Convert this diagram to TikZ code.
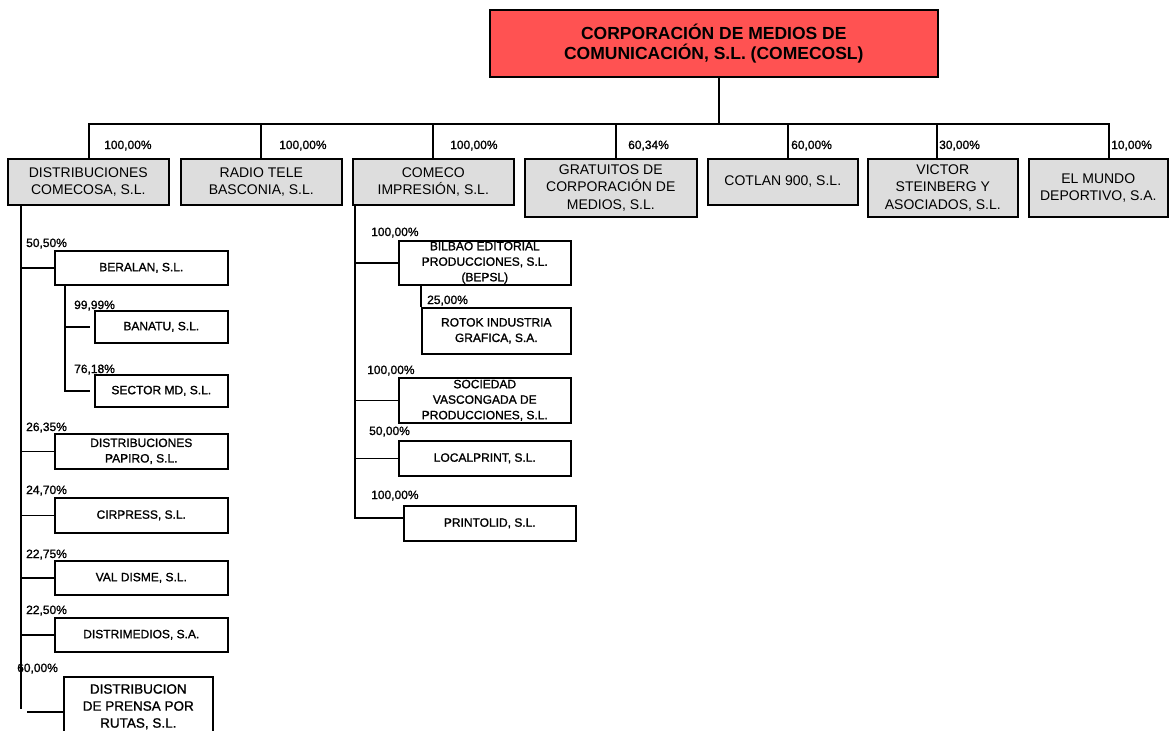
\documentclass[tikz,border=0pt]{standalone}
\usepackage{fontspec}
\setmainfont{Liberation Sans}
\newfontfamily\heavyfont[FakeBold=1.2]{Liberation Sans}
\definecolor{lvlgray}{HTML}{DDDDDD}
\definecolor{topred}{HTML}{FF5252}
\tikzset{
  box/.style={draw, line width=1.6pt, inner sep=0pt, align=center, anchor=north west},
  l1box/.style={box, fill=lvlgray, font=\fontsize{14}{17.5}\selectfont},
  l2box/.style={box, fill=white, font=\heavyfont\fontsize{12}{15.5}\selectfont},
  pct/.style={anchor=base west, inner sep=0pt, font=\heavyfont\fontsize{12}{14}\selectfont},
  link/.style={line width=1.6pt},
}
\begin{document}
\begin{tikzpicture}[x=1pt,y=-1pt]
\clip (0,0) rectangle (1171,731);
\fill[white] (0,0) rectangle (1171,731);

% title
\node[box, fill=topred, minimum width=448pt, minimum height=67pt,
      font=\bfseries\fontsize{17.5}{20}\selectfont] (top) at (489,9)
      {CORPORACIÓN DE MEDIOS DE\\COMUNICACIÓN, S.L. (COMECOSL)};

% level 1
\node[l1box, minimum width=161pt, minimum height=46pt] (b1) at (7,158) {DISTRIBUCIONES\\COMECOSA, S.L.};
\node[l1box, minimum width=161pt, minimum height=46pt] (b2) at (180,158) {RADIO TELE\\BASCONIA, S.L.};
\node[l1box, minimum width=161pt, minimum height=46pt] (b3) at (352,158) {COMECO\\IMPRESIÓN, S.L.};
\node[l1box, minimum width=172pt, minimum height=58pt] (b4) at (524,158) {GRATUITOS DE\\CORPORACIÓN DE\\MEDIOS, S.L.};
\node[l1box, minimum width=150pt, minimum height=46pt] (b5) at (707,158) {COTLAN 900, S.L.};
\node[l1box, minimum width=150pt, minimum height=58pt] (b6) at (867,158) {VICTOR\\STEINBERG Y\\ASOCIADOS, S.L.};
\node[l1box, minimum width=139pt, minimum height=58pt] (b7) at (1028,158) {EL MUNDO\\DEPORTIVO, S.A.};

% level 2 left
\node[l2box, minimum width=173pt, minimum height=34pt] (beralan) at (54,250) {BERALAN, S.L.};
\node[l2box, minimum width=133pt, minimum height=32pt] (banatu) at (94,310) {BANATU, S.L.};
\node[l2box, minimum width=133pt, minimum height=32pt] (sector) at (94,374) {SECTOR MD, S.L.};
\node[l2box, minimum width=173pt, minimum height=35pt] (papiro) at (54,433) {DISTRIBUCIONES\\PAPIRO, S.L.};
\node[l2box, minimum width=173pt, minimum height=35pt] (cirpress) at (54,497) {CIRPRESS, S.L.};
\node[l2box, minimum width=173pt, minimum height=34pt] (valdisme) at (54,560) {VAL DISME, S.L.};
\node[l2box, minimum width=173pt, minimum height=34pt] (distrimedios) at (54,617) {DISTRIMEDIOS, S.A.};
\node[box, fill=white, font=\heavyfont\fontsize{13.5}{17}\selectfont, minimum width=149pt, minimum height=60pt] (prensa) at (63,676) {DISTRIBUCION\\DE PRENSA POR\\RUTAS, S.L.};

% level 2 middle
\node[l2box, minimum width=172pt, minimum height=44pt] (bilbao) at (398,240) {BILBAO EDITORIAL\\PRODUCCIONES, S.L.\\(BEPSL)};
\node[l2box, minimum width=149pt, minimum height=46pt] (rotok) at (421,307) {ROTOK INDUSTRIA\\GRAFICA, S.A.};
\node[l2box, minimum width=172pt, minimum height=45pt] (sociedad) at (398,377) {SOCIEDAD\\VASCONGADA DE\\PRODUCCIONES, S.L.};
\node[l2box, minimum width=172pt, minimum height=35pt] (localprint) at (398,440) {LOCALPRINT, S.L.};
\node[l2box, minimum width=172pt, minimum height=35pt] (printolid) at (403,505) {PRINTOLID, S.L.};

% top connectors
\coordinate (tr) at (719,124);
\coordinate (bus1) at (89,124);
\coordinate (bus2) at (261,124);
\coordinate (bus3) at (433,124);
\coordinate (bus4) at (616,124);
\coordinate (bus5) at (788,124);
\coordinate (bus6) at (937,124);
\coordinate (bus7) at (1109,124);
\draw[link] (tr |- top.south) -- (tr);
\draw[link] (bus1 |- b1.north) -- (bus1) -- (bus7) -- (bus7 |- b7.north);
\foreach \i in {2,...,6} \draw[link] (bus\i) -- (bus\i |- b\i.north);

% left column connectors
\coordinate (lv) at (21,0);
\coordinate (lvend) at (21,709);
\draw[link] (lv |- b1.south) -- (lvend);
\foreach \n in {beralan,papiro,cirpress,valdisme,distrimedios}
  \draw[link] (lv |- \n.west) -- (\n.west);
\coordinate (pr) at (27,712);
\draw[link] (pr) -- (pr -| prensa.west);
\coordinate (sv) at (65,0);
\draw[link] (sv |- beralan.south) -- (sv |- sector.west) -- ([xshift=-4pt]sector.west);
\draw[link] (sv |- banatu.west) -- ([xshift=-4pt]banatu.west);

% middle column connectors
\coordinate (mv) at (355,0);
\coordinate (mvend) at (355,518);
\draw[link] (mv |- b3.south) -- (mvend) -- (mvend -| printolid.west);
\foreach \n in {bilbao,sociedad,localprint}
  \draw[link] (mv |- \n.west) -- (\n.west);
\draw[link] (rotok.north west) -- (rotok.north west |- bilbao.south);

% percentage labels, level 1
\node[pct] (p1) at (104,149) {100,00\%};
\node[pct] (p2) at (279,149) {100,00\%};
\node[pct] (p3) at (450,149) {100,00\%};
\node[pct] (p4) at (628,149) {60,34\%};
\node[pct] (p5) at (791,149) {60,00\%};
\node[pct] (p6) at (939,149) {30,00\%};
\node[pct] (p7) at (1111,149) {10,00\%};

% percentage labels, left
\node[pct] (q1) at (26,247) {50,50\%};
\node[pct] (q2) at (74,309) {99,99\%};
\node[pct] (q3) at (74,373) {76,18\%};
\node[pct] (q4) at (26,431) {26,35\%};
\node[pct] (q5) at (26,494) {24,70\%};
\node[pct] (q6) at (26,558) {22,75\%};
\node[pct] (q7) at (26,614) {22,50\%};
\node[pct] (q8) at (17,672) {60,00\%};

% percentage labels, middle
\node[pct] (m1) at (371,236) {100,00\%};
\node[pct] (m2) at (427,304) {25,00\%};
\node[pct] (m3) at (367,374) {100,00\%};
\node[pct] (m4) at (369,435) {50,00\%};
\node[pct] (m5) at (371,499) {100,00\%};
\end{tikzpicture}
\end{document}
